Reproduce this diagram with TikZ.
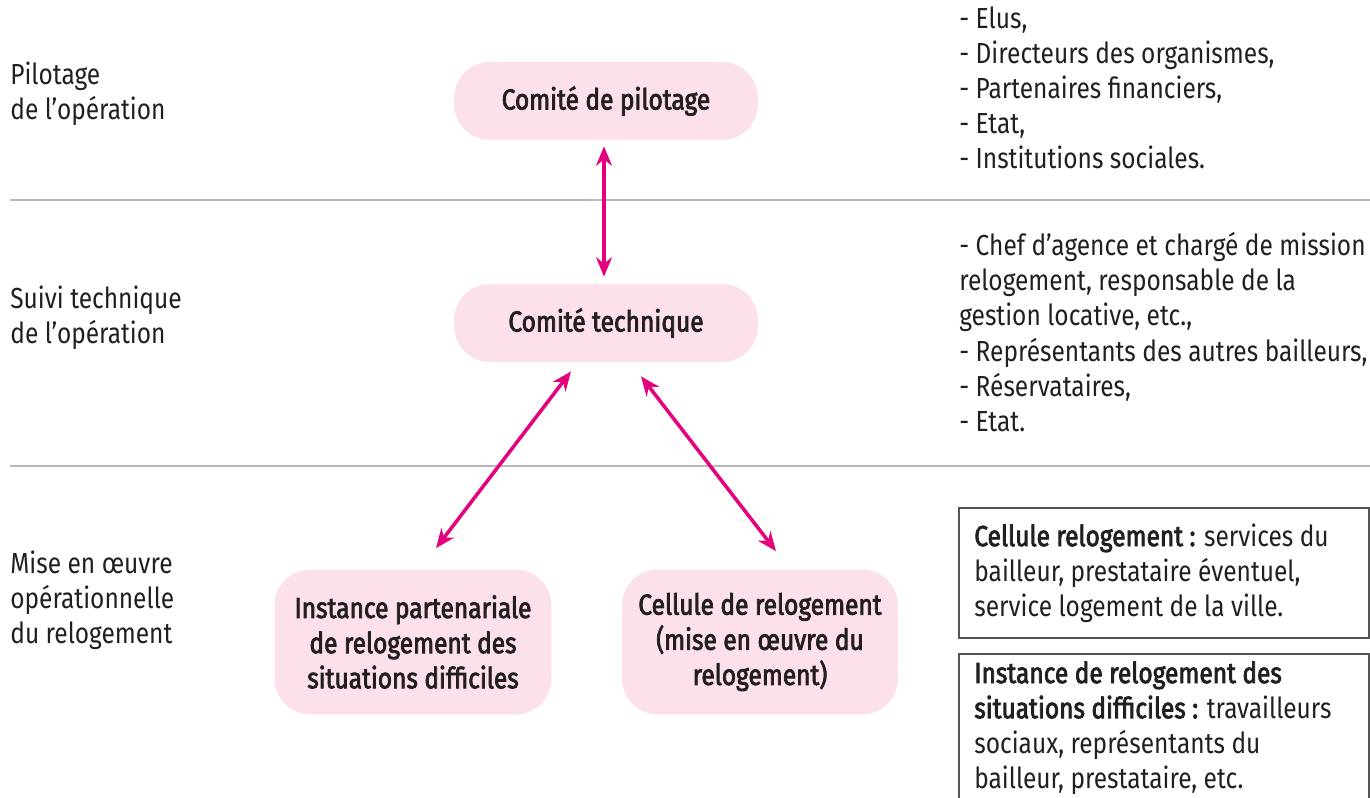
\documentclass[tikz,border=0pt]{standalone}
\usepackage{fontspec}
\setmainfont{Fira Sans}[FakeStretch=0.845, BoldFont={Fira Sans}, BoldFeatures={FakeBold=2.6}]
\usetikzlibrary{arrows.meta,calc}
\definecolor{pinkfill}{HTML}{FCE0EB}
\definecolor{magentaarrow}{HTML}{E5007D}
\definecolor{sepgray}{HTML}{B8B8BA}
\definecolor{txt}{HTML}{231F20}
\definecolor{boxline}{HTML}{555555}
\begin{document}
\begin{tikzpicture}[x=0.02cm,y=-0.02cm,
  every node/.style={font=\fontsize{16.5}{20}\selectfont, text=txt},
  pill/.style={fill=pinkfill, draw=none, rounded corners=0.72cm, align=center,
     font=\fontsize{16.5}{20}\selectfont\bfseries},
  lbl/.style={anchor=west, align=left, inner sep=0pt},
  infobox/.style={draw=boxline, line width=0.8pt},
  link/.style={draw=magentaarrow, line width=2pt, {Stealth[length=11pt,width=9pt]}-{Stealth[length=11pt,width=9pt]}},
  sep/.style={draw=sepgray, line width=1.6pt}
]
\useasboundingbox (0,0) rectangle (1370,798);
\clip (0,0) rectangle (1370,798);

% separators
\draw[sep] (10,200) -- (1370,200);
\draw[sep] (10,466) -- (1370,466);

% left labels
\node[lbl] (l1) at (10,94) {Pilotage\\de l’opération};
\node[lbl] (l2) at (10,318) {Suivi technique\\de l’opération};
\node[lbl] (l3) at (10,600) {Mise en œuvre\\opérationnelle\\du relogement};

% central nodes
\node[pill, minimum width=6.08cm, minimum height=1.56cm] (cp) at (606,101) {Comité de pilotage};
\node[pill, minimum width=6.08cm, minimum height=1.56cm] (ct) at (606,323) {Comité technique};
\node[pill, minimum width=5.54cm, minimum height=2.9cm] (ip) at (413,642) {Instance partenariale\\de relogement des\\situations difficiles};
\node[pill, minimum width=5.52cm, minimum height=2.9cm] (cr) at (760,642) {Cellule de relogement\\(mise en œuvre du\\relogement)};

% arrows
\coordinate (a1) at ($(cp.south)+(-2,6)$);
\coordinate (a2) at ($(ct.north)+(-2,-7)$);
\coordinate (b1) at ($(ct.south)+(-35,9)$);
\coordinate (b2) at ($(ip.north)+(23,-21)$);
\coordinate (c1) at ($(ct.south)+(35,14)$);
\coordinate (c2) at ($(cr.north)+(16,-18)$);
\draw[link] (a1) -- (a2);
\draw[link] (b1) -- (b2);
\draw[link] (c1) -- (c2);

% right lists
\node[lbl] (r1) at (959,88) {- Elus,\\- Directeurs des organismes,\\- Partenaires financiers,\\- Etat,\\- Institutions sociales.};
\node[lbl] (r2) at (959,332) {- Chef d’agence et chargé de mission\\relogement, responsable de la\\gestion locative, etc.,\\- Représentants des autres bailleurs,\\- Réservataires,\\- Etat.};

% right boxes
\draw[infobox] (959,508) rectangle (1369,638);
\node[lbl] (b1t) at (974,573) {\textbf{Cellule relogement :} services du\\bailleur, prestataire éventuel,\\service logement de la ville.};
\draw[infobox] (959,654) rectangle (1369,830);
\node[lbl] (b2t) at (974,728) {\textbf{Instance de relogement des}\\\textbf{situations difficiles :} travailleurs\\sociaux, représentants du\\bailleur, prestataire, etc.};
\end{tikzpicture}
\end{document}
